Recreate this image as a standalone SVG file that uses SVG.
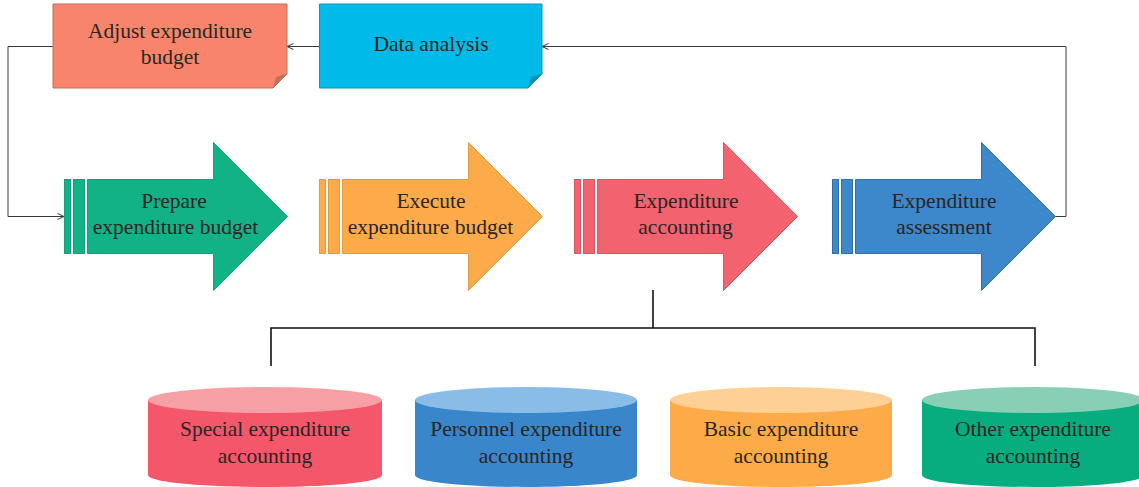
<svg xmlns="http://www.w3.org/2000/svg" width="1139" height="487" viewBox="0 0 1139 487">
<style>
text{font-family:"Liberation Serif",serif;font-size:21.500px;text-anchor:middle;fill:#2b2523}
.c{fill:none;stroke:#3a3a3a;stroke-width:1}
.b{fill:none;stroke:#111;stroke-width:1.6}
.g{fill:#10b286;stroke:#0ea37b}
.o{fill:#fdab4a;stroke:#e39a42}
.r{fill:#f2626f;stroke:#d95763}
.u{fill:#3d88ca;stroke:#2f70a9}
</style>
<defs>
<marker id="a" markerWidth="9" markerHeight="9" refX="7.5" refY="4" orient="auto" markerUnits="userSpaceOnUse"><path d="M1 1L7.5 4L1 7" fill="none" stroke="#3a3a3a" stroke-width="1"/></marker>
<g id="ar"><rect x="0" y="37" width="6" height="74"/><rect x="9" y="37" width="11" height="74"/><path d="M23 37H149V0L223 74L149 148V111H23Z"/></g>
</defs>
<rect width="1139" height="487" fill="#fff"/>
<g id="connectors">
<path class="c" d="M53 46.500H8V216.500H64" marker-end="url(#a)"/>
<path class="c" d="M319 46.500H287" marker-end="url(#a)"/>
<path class="c" d="M1055 216.500H1066V46.500H542" marker-end="url(#a)"/>
<path class="b" d="M653 290V328M271 366V328H1035V366"/>
</g>
<g id="adjust">
<path d="M53 4H287V74L273 88H53Z" fill="#f8856b" stroke="#c96a55"/>
<path d="M287.500 73.500L273 88L276 77Z" fill="#c4705f"/>
<text x="170" y="38">Adjust expenditure</text><text x="170" y="64">budget</text>
</g>
<g id="data">
<path d="M319.500 4H542V74L528 88H319.500Z" fill="#00bbe9" stroke="#0a94b8"/>
<path d="M542.500 73.500L528 88L531 77Z" fill="#0b93b8"/>
<text x="431" y="51">Data analysis</text>
</g>
<g id="prepare"><use href="#ar" x="64.500" y="142.500" class="g"/><text x="174" y="208">Prepare</text><text x="175.500" y="234">expenditure budget</text></g>
<g id="execute"><use href="#ar" x="319.500" y="142.500" class="o"/><text x="431" y="208">Execute</text><text x="430.500" y="234">expenditure budget</text></g>
<g id="accounting"><use href="#ar" x="574.500" y="142.500" class="r"/><text x="686" y="208">Expenditure</text><text x="685.500" y="234">accounting</text></g>
<g id="assessment"><use href="#ar" x="832.500" y="142.500" class="u"/><text x="944" y="208">Expenditure</text><text x="944" y="234">assessment</text></g>
<g id="special">
<path d="M148 400V475C148 482 200 487 265 487S382 482 382 475V400Z" fill="#f4566a"/>
<ellipse cx="265" cy="400" rx="117" ry="13" fill="#f6a0a6"/>
<text x="265" y="436">Special expenditure</text><text x="265" y="463">accounting</text>
</g>
<g id="personnel">
<path d="M415 400V475C415 482 465 487 526 487S637 482 637 475V400Z" fill="#3a86ca"/>
<ellipse cx="526" cy="400" rx="111" ry="13" fill="#89bde8"/>
<text x="526" y="436">Personnel expenditure</text><text x="526" y="463">accounting</text>
</g>
<g id="basic">
<path d="M670 400V475C670 482 720 487 781 487S892 482 892 475V400Z" fill="#fdab48"/>
<ellipse cx="781" cy="400" rx="111" ry="13" fill="#fed095"/>
<text x="781" y="436">Basic expenditure</text><text x="781" y="463">accounting</text>
</g>
<g id="other">
<path d="M922 400V475C922 482 972 487 1033 487S1144 482 1144 475V400Z" fill="#07ad7e"/>
<ellipse cx="1033" cy="400" rx="111" ry="13" fill="#88cfb6"/>
<text x="1033" y="436">Other expenditure</text><text x="1033" y="463">accounting</text>
</g>
</svg>
